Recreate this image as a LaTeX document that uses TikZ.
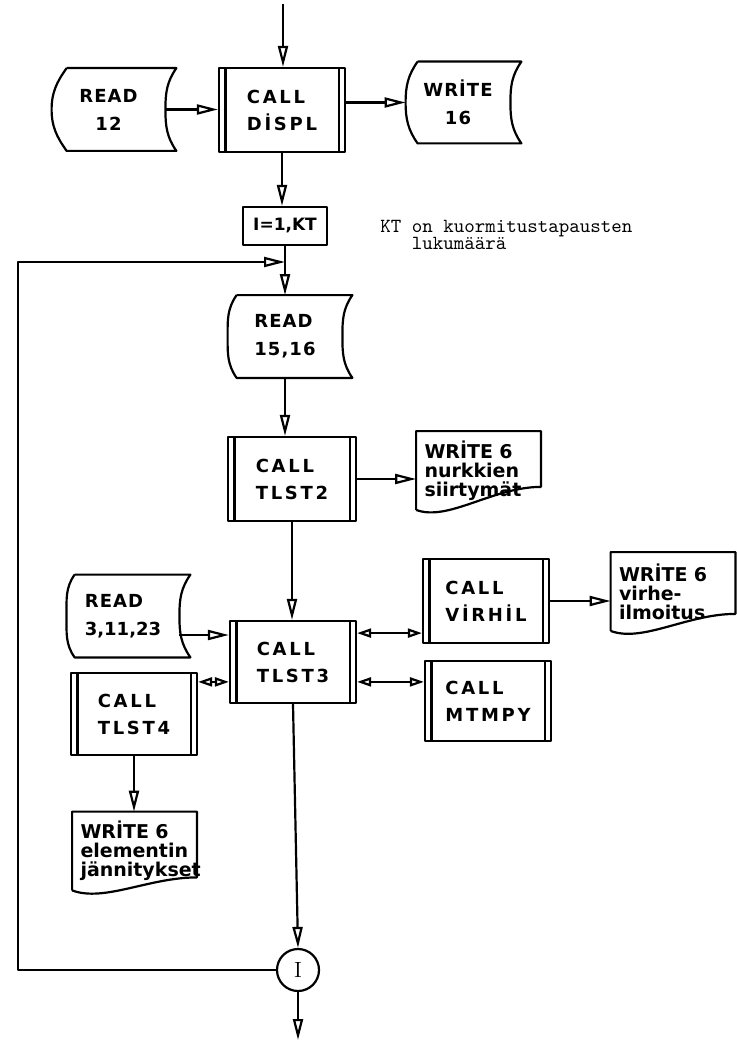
\documentclass[tikz,border=0pt]{standalone}
\usepackage{fontspec}
\newfontfamily\lettr[LetterSpace=15]{DejaVu Sans}
\newfontfamily\lettrs[LetterSpace=6]{DejaVu Sans}
\newfontfamily\lettrn{DejaVu Sans}
\usetikzlibrary{arrows.meta, calc}
\tikzset{
  lin/.style = {draw=black, line width=1.1pt, line join=round},
  cal/.style = {lin, minimum width=63pt, minimum height=42pt, inner sep=0pt,
    align=left, font=\lettr\bfseries\fontsize{9}{13.5}\selectfont,
    path picture={\draw [line width=1.1pt]
      ([xshift=3.2pt]path picture bounding box.north west) --
      ([xshift=3.2pt]path picture bounding box.south west)
      ([xshift=-3.2pt]path picture bounding box.north east) --
      ([xshift=-3.2pt]path picture bounding box.south east);}},
  rd/.style = {minimum height=41pt, inner sep=0pt,
    font=\lettrs\bfseries\fontsize{9}{14}\selectfont},
  doc/.style = {text width=54pt, inner xsep=4pt, inner ysep=0pt,
    minimum height=39pt, align=left,
    font=\lettrn\bfseries\fontsize{9.5}{9.5}\selectfont},
  ini/.style = {lin, minimum width=42pt, minimum height=19pt, inner sep=0pt,
    font=\lettrn\bfseries\fontsize{8.5}{12}\selectfont},
  con/.style = {circle, lin, minimum size=21pt, inner sep=0pt,
    font=\rmfamily\fontsize{11}{12}\selectfont},
  nota/.style = {align=left, inner sep=0pt,
    font=\ttfamily\fontsize{10}{8.5}\selectfont},
  seta/.style = {lin, -{Triangle[open, length=10.5pt, width=5pt]}},
  dseta/.style = {lin, {Triangle[open, length=7pt, width=4.5pt]}-{Triangle[open, length=7pt, width=4.5pt]}}
}
\newcommand{\rdframe}[3]{\draw [lin] ([xshift=#2]#1.north west) --
  ([xshift=#3]#1.north east) to[out=-125, in=90] (#1.east)
  to[out=-90, in=125] ([xshift=#3]#1.south east) --
  ([xshift=#2]#1.south west) to[out=125, in=-90] (#1.west)
  to[out=90, in=-125] ([xshift=#2]#1.north west);}
\newcommand{\docframe}[2]{\draw [lin] (#1.south west) -- (#1.north west) --
  (#1.north east) -- ([yshift=#2]#1.south east) ..
  controls ([xshift=-24pt, yshift=#2]#1.south east) and
  ([xshift=16pt, yshift=-6pt]#1.south west) .. (#1.south west);}

\begin{document}
\begin{tikzpicture}[x=0.5pt, y=0.5pt]
  \useasboundingbox (0,0) rectangle (736,-1043);
  \coordinate (top) at (283,-4);
  \node [cal] (displ) at (282,-110) {CALL\\DİSPL};
  \node [rd, minimum width=56.5pt, align=center] (read12) at (108.5,-109.5) {READ\\12};
  \node [rd, minimum width=52pt, minimum height=40.5pt, align=center] (write16) at (458,-102.5) {WRİTE\\16};
  \node [ini] (loop) at (285,-226) {I=1,KT};
  \node [nota, anchor=west] (nota) at (380,-235) {KT on kuormitustapausten\\\phantom{KT }lukumäärä};
  \node [rd, minimum width=57pt, align=left] (read15) at (285,-336.5) {READ\\15,16};
  \node [cal, minimum width=64pt] (tlst2) at (292,-479) {CALL\\TLST2};
  \node [doc] (nurk) at (478.5,-470.5) {WRİTE 6\\nurkkien\\siirtymät};
  \node [cal, minimum height=41pt] (tlst3) at (293,-662) {CALL\\TLST3};
  \node [rd, minimum width=56pt, align=left] (read3) at (123,-616) {READ\\{\lettrn 3,11,23}};
  \node [cal] (virhil) at (486,-601) {CALL\\VİRHİL};
  \node [doc] (virhe) at (673,-591.5) {WRİTE 6\\virhe-\\ilmoitus};
  \node [cal, minimum height=40pt] (mtmpy) at (488,-701) {CALL\\MTMPY};
  \node [cal, minimum height=41pt] (tlst4) at (134,-714) {CALL\\TLST4};
  \node [doc] (elem) at (134.5,-851) {WRİTE 6\\elementin\\jännitykset};
  \node [con] (circ) at (298,-970) {I};
  \coordinate (end) at (298,-1040);
  \coordinate (lp) at (18,-262);
  \rdframe{read12}{7.5pt}{5.5pt}
  \rdframe{write16}{6pt}{5.5pt}
  \rdframe{read15}{4.5pt}{5pt}
  \rdframe{read3}{4pt}{5.5pt}
  \docframe{nurk}{11.5pt}
  \docframe{virhe}{8.5pt}
  \docframe{elem}{6.5pt}
  \coordinate (v1) at ([yshift=5.5pt]virhil.south west);
  \coordinate (m1) at ([yshift=-11pt]mtmpy.north west);
  \coordinate (t4) at ([yshift=-5pt]tlst4.north east);
  \coordinate (r3) at ([yshift=-9.5pt]read3.east);
  \draw [seta] (top) -- (top |- displ.north);
  \draw [seta] (read12.east) -- (read12.east -| displ.west);
  \draw [seta] (write16.west -| displ.east) -- (write16.west);
  \draw [seta] (displ.south) -- (displ.south |- loop.north);
  \draw [lin] (loop.south) -- (loop.south |- lp);
  \draw [seta] (loop.south |- lp) -- (loop.south |- read15.north);
  \draw [seta] (circ.west) -| (lp) -- (lp -| loop.south);
  \draw [seta] (read15.south) -- (read15.south |- tlst2.north);
  \draw [seta] (tlst2.east) -- (tlst2.east -| nurk.west);
  \draw [seta] (tlst2.south) -- (tlst2.south |- tlst3.north);
  \draw [seta] (r3) -- (r3 -| tlst3.west);
  \draw [dseta] (t4) -- (t4 -| tlst3.west);
  \draw [dseta] (v1 -| tlst3.east) -- (v1);
  \draw [dseta] (m1 -| tlst3.east) -- (m1);
  \draw [seta] (virhil.east) -- (virhil.east -| virhe.west);
  \draw [seta] (tlst4.south) -- (tlst4.south |- elem.north);
  \draw [seta] (tlst3.south) -- (circ.north);
  \draw [seta] (circ.south) -- (end);
\end{tikzpicture}
\end{document}
